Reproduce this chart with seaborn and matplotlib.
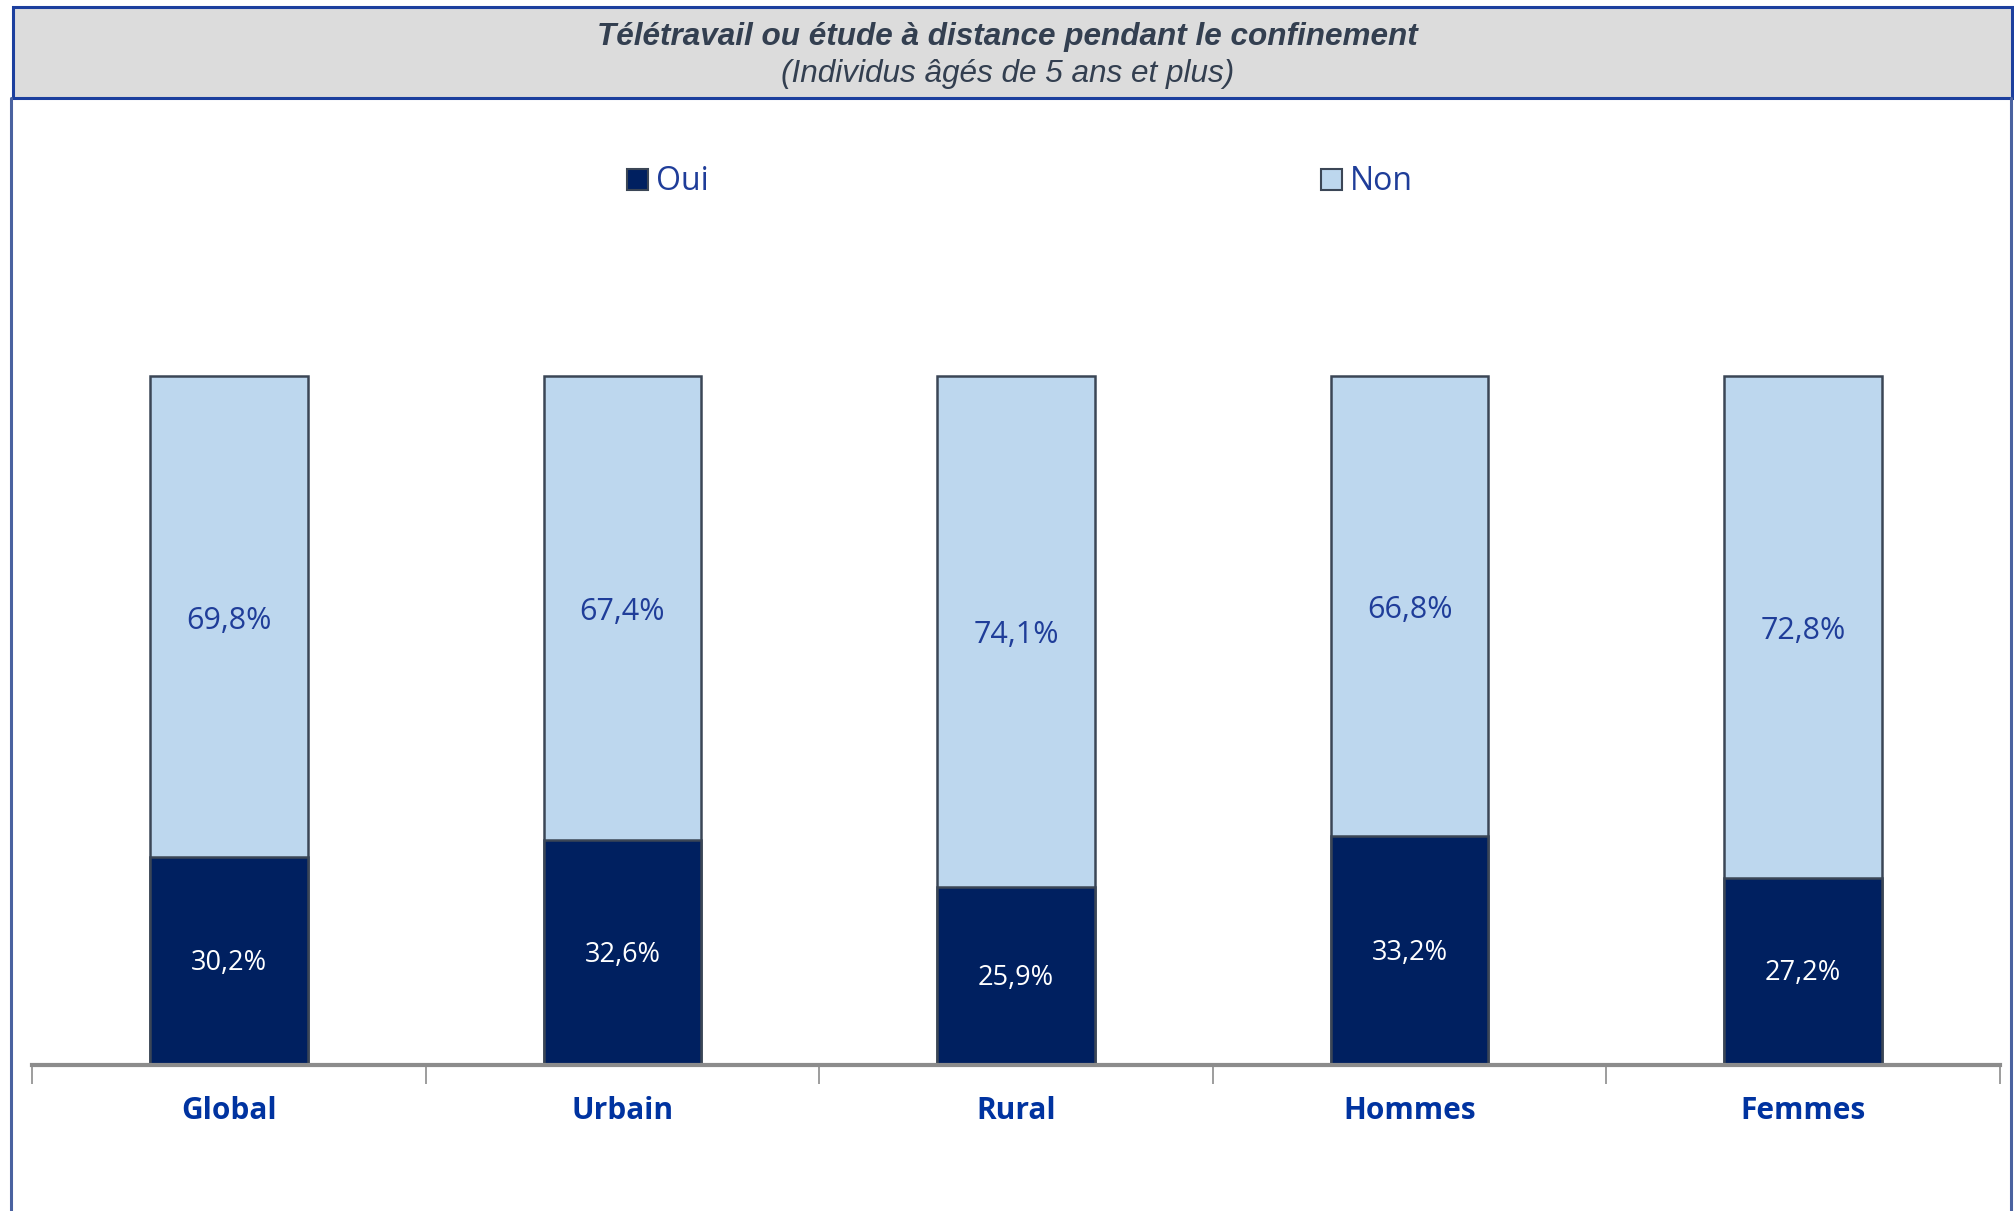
import numpy as np
import pandas as pd
import matplotlib
matplotlib.use('Agg')
import matplotlib.pyplot as plt
import matplotlib.patches as mpatches
from matplotlib.lines import Line2D
import seaborn as sns

sns.set_theme(style="white")
plt.rcParams['font.family'] = ['Open Sans', 'DejaVu Sans']

categories = ['Global', 'Urbain', 'Rural', 'Hommes', 'Femmes']
oui = [30.2, 32.6, 25.9, 33.2, 27.2]
non = [69.8, 67.4, 74.1, 66.8, 72.8]
title = 'Télétravail ou étude à distance pendant le confinement'
subtitle = '(Individus âgés de 5 ans et plus)'

c_oui = '#002060'
c_non = '#BDD7EE'
c_edge = '#3B4656'
c_text = '#1F3D99'
c_border = '#4A62A0'

df = pd.DataFrame({'cat': categories, 'oui': oui, 'non': non})
df['total'] = df['oui'] + df['non']

W, H = 2015, 1211
fig = plt.figure(figsize=(W / 100, H / 100), dpi=100)

# frame lines around chart area
fig.add_artist(Line2D([11 / W, 11 / W], [0, 1 - 98 / H], transform=fig.transFigure,
                      color=c_border, lw=2.2))
fig.add_artist(Line2D([2011 / W, 2011 / W], [0, 1 - 98 / H], transform=fig.transFigure,
                      color=c_border, lw=2.2))

# title box
fig.add_artist(mpatches.Rectangle((13 / W, 1 - 98 / H), (2012 - 13) / W, 91 / H,
                                  transform=fig.transFigure, facecolor='#DCDCDC',
                                  edgecolor='#1C3F9E', lw=2.2))
fig.text(0.5, 1 - 37 / H, title, ha='center', va='center', fontsize=22.7,
         fontweight='bold', fontstyle='italic', color='#333F50',
         family=['Liberation Sans', 'DejaVu Sans'])
fig.text(0.5, 1 - 74 / H, subtitle, ha='center', va='center', fontsize=22.7,
         fontstyle='italic', color='#333F50', family=['Liberation Sans', 'DejaVu Sans'])

# axes: y=0 at pixel 1065, y=100 at pixel 376
y0, y100 = 1065, 376
ymax = 105
ax_h = (y0 - y100) / H * ymax / 100
ax = fig.add_axes([32 / W, (H - y0) / H, (2000 - 32) / W, ax_h])

sns.barplot(data=df, x='cat', y='total', color=c_non, width=0.4, edgecolor=c_edge,
            linewidth=1.8, saturation=1, ax=ax)
sns.barplot(data=df, x='cat', y='oui', color=c_oui, width=0.4, edgecolor=c_edge,
            linewidth=1.8, saturation=1, ax=ax)

for i, (o, n) in enumerate(zip(oui, non)):
    ax.text(i, o / 2 - 0.3, f'{o:.1f}%'.replace('.', ','), ha='center', va='center',
            fontsize=19.5, color='white')
    ax.text(i, o + n / 2 - 0.6, f'{n:.1f}%'.replace('.', ','), ha='center', va='center',
            fontsize=22, color=c_text)

ax.set_xlim(-0.5, len(categories) - 0.5)
ax.set_ylim(0, ymax)
ax.set_xlabel('')
ax.set_ylabel('')
ax.set_yticks([])
ax.set_xticks(np.arange(len(categories)))
ax.set_xticklabels(categories, fontsize=21.5, fontweight='bold', color='#0033A0')
ax.tick_params(axis='x', which='major', length=0, pad=22)
ax.set_xticks(np.arange(-0.5, len(categories)), minor=True)
ax.tick_params(axis='x', which='minor', bottom=True, length=14, width=1.2,
               color='#8C8C8C', direction='out')
for s in ['top', 'left', 'right']:
    ax.spines[s].set_visible(False)
ax.spines['bottom'].set_color('#8C8C8C')
ax.spines['bottom'].set_linewidth(3)
ax.patch.set_alpha(0)

# legend, one entry each so positions match
for lab, col, x in [('Oui', c_oui, 627), ('Non', c_non, 1321)]:
    h = mpatches.Patch(facecolor=col, edgecolor=c_edge, lw=1.5, label=lab)
    fig.legend(handles=[h], loc='center left', bbox_to_anchor=(x / W, 1 - 182 / H),
               frameon=False, fontsize=23, labelcolor=c_text, handlelength=0.65,
               handleheight=0.65, handletextpad=0.25, borderpad=0, borderaxespad=0)

fig.savefig('out.png', dpi=100)
